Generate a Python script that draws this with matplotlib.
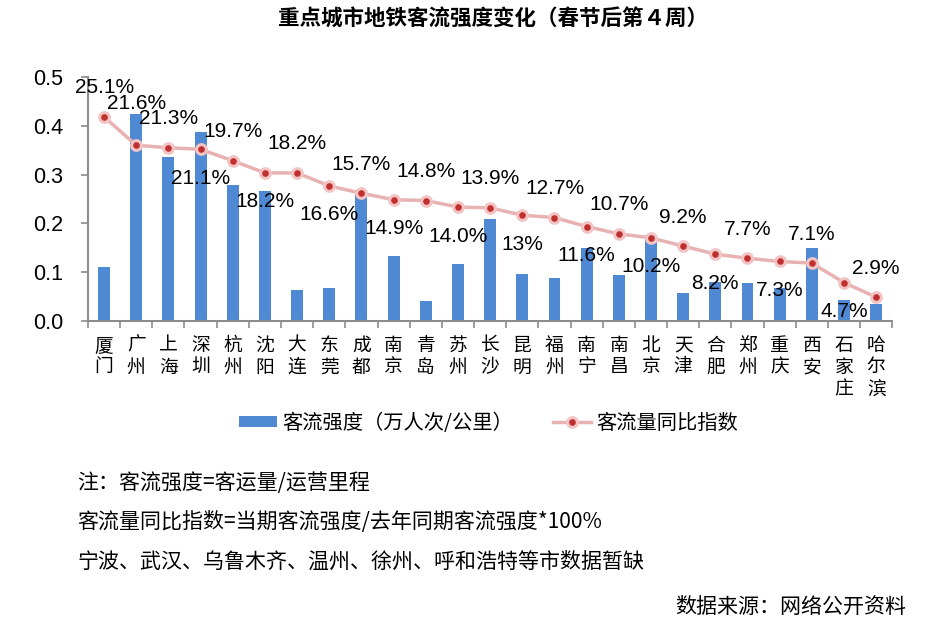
import matplotlib
matplotlib.use("Agg")
import matplotlib.pyplot as plt
from matplotlib.lines import Line2D
from matplotlib.patches import Patch
import numpy as np

# ---- data ----
cities = ["厦门", "广州", "上海", "深圳", "杭州", "沈阳", "大连", "东莞", "成都", "南京",
          "青岛", "苏州", "长沙", "昆明", "福州", "南宁", "南昌", "北京", "天津", "合肥",
          "郑州", "重庆", "西安", "石家庄", "哈尔滨"]
intensity = [0.110, 0.424, 0.336, 0.388, 0.279, 0.266, 0.063, 0.067, 0.268, 0.133,
             0.040, 0.116, 0.209, 0.096, 0.088, 0.149, 0.094, 0.176, 0.058, 0.080,
             0.077, 0.067, 0.149, 0.043, 0.035]
yoy_index = [0.251, 0.216, 0.213, 0.211, 0.197, 0.182, 0.182, 0.166, 0.157, 0.149,
             0.148, 0.140, 0.139, 0.130, 0.127, 0.116, 0.107, 0.102, 0.092, 0.082,
             0.077, 0.073, 0.071, 0.047, 0.029]
yoy_labels = ["25.1%", "21.6%", "21.3%", "21.1%", "19.7%", "18.2%", "18.2%", "16.6%",
              "15.7%", "14.9%", "14.8%", "14.0%", "13.9%", "13%", "12.7%", "11.6%",
              "10.7%", "10.2%", "9.2%", "8.2%", "7.7%", "7.3%", "7.1%", "4.7%", "2.9%"]
# label offset from the point, in pixels (positive = above)
label_offset = [29, 42, 29, -29, 29, -29, 29, -29, 29, -29, 29, -29, 29, -29, 29, -29,
                29, -29, 29, -29, 29, -29, 29, -29, 29]

notes = ["注：客流强度=客运量/运营里程",
         "客流量同比指数=当期客流强度/去年同期客流强度*100%",
         "宁波、武汉、乌鲁木齐、温州、徐州、呼和浩特等市数据暂缺"]

CJK = ["Noto Sans CJK SC", "DejaVu Sans"]
NUM = ["Liberation Sans", "Noto Sans CJK SC"]
plt.rcParams['font.family'] = NUM

bar_color = "#5089D3"
line_color = "#E8B2B2"
dot_color = "#C0302E"

fig = plt.figure(figsize=(9.44, 6.34), dpi=100)
ax = fig.add_axes([0.0932, 0.494, 0.852, 0.3845])
x = np.arange(len(cities))

ax.bar(x, intensity, width=0.37, color=bar_color, zorder=2)
ax.set_xlim(-0.5, len(cities) - 0.5)
ax.set_ylim(0, 0.5)
ax.set_yticks(np.arange(0, 0.51, 0.1))
ax.set_yticklabels([f"{v:.1f}" for v in np.arange(0, 0.51, 0.1)], fontsize=15.5, family=NUM)
ax.tick_params(axis='y', length=5, width=1.2, color="#8C8C8C", pad=13)

ax.set_xticks(x)
ax.set_xticklabels(["\n".join(c) for c in cities], family=CJK, fontsize=13.5,
                   linespacing=1.05, va='top')
ax.set_xticks(np.arange(-0.5, len(cities), 1), minor=True)
ax.tick_params(axis='x', which='major', length=0, pad=10)
ax.tick_params(axis='x', which='minor', length=5, width=1.2, color="#8C8C8C")

for s in ["top", "right"]:
    ax.spines[s].set_visible(False)
for s in ["left", "bottom"]:
    ax.spines[s].set_color("#8C8C8C")
    ax.spines[s].set_linewidth(1.5)

ax2 = ax.twinx()
ax2.set_ylim(0, 0.3)
ax2.axis("off")
ax2.plot(x, yoy_index, color=line_color, lw=2.5, zorder=3,
         marker='o', markersize=7, markerfacecolor=dot_color,
         markeredgecolor="#F2C4C4", markeredgewidth=2.2)

for xi, v, lab, off in zip(x, yoy_index, yoy_labels, label_offset):
    ax2.annotate(lab, (xi, v), xytext=(0, off), textcoords='offset pixels',
                 ha='center', va='center', fontsize=15, family=NUM, color="black",
                 zorder=5)

# legend
handles = [Patch(facecolor=bar_color, edgecolor='none'),
           Line2D([0], [0], color=line_color, lw=2.5, marker='o', markersize=7,
                  markerfacecolor=dot_color, markeredgecolor="#F2C4C4", markeredgewidth=2.2)]
fig.legend(handles, ["客流强度（万人次/公里）", "客流量同比指数"], loc='center',
           bbox_to_anchor=(488.5 / 944, 1 - 423 / 634), ncol=2, frameon=False,
           prop={'family': CJK, 'size': 14.6}, handlelength=1.85, handleheight=0.45,
           handletextpad=0.25, columnspacing=2.0)

fig.text(493 / 944, 1 - 19 / 634, "重点城市地铁客流强度变化（春节后第４周）",
         ha='center', va='center', fontsize=15.5, fontweight='bold', family=CJK)

for i, t in enumerate(notes):
    fig.text(77 / 944, 1 - (483 + 39.5 * i) / 634, t, ha='left', va='center',
             fontsize=15.1, family=CJK)
fig.text(906 / 944, 1 - 607 / 634, "数据来源：网络公开资料", ha='right', va='center',
         fontsize=15.1, family=CJK)

fig.savefig("out.png", dpi=100)
